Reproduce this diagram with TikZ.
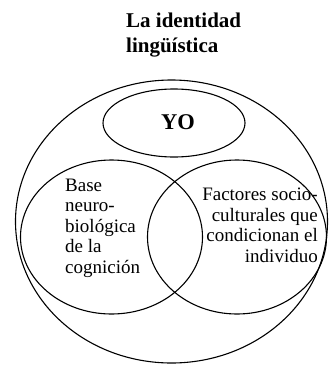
\documentclass[tikz,border=0pt]{standalone}
\usepackage{fontspec}
\setmainfont{Liberation Serif}
\usetikzlibrary{shapes.geometric}
\tikzset{
  ring/.style={draw=black, ellipse, line width=1.1pt, inner sep=0pt, outer sep=0pt},
  bodytext/.style={inner sep=0pt, font=\fontsize{19}{20.4}\selectfont},
  titletext/.style={inner sep=0pt, font=\fontsize{21}{25}\selectfont\bfseries},
}
\begin{document}
\begin{tikzpicture}[x=1pt,y=-1pt]
\useasboundingbox (0,0) rectangle (329,365);
% title
\node[titletext, anchor=base west] (t1) at (126,27) {La identidad};
\node[titletext, anchor=base west] (t2) at (126,52) {lingüística};
% outer ellipse
\node[ring, minimum width=312pt, minimum height=283pt] (outer) at (171.5,221.5) {};
% YO ellipse
\node[ring, minimum width=142pt, minimum height=68pt] (yo) at (174,123) {};
\node[inner sep=0pt, anchor=base, font=\fontsize{22.5}{24}\selectfont\bfseries] (yotext) at (178,129) {YO};
% left and right ellipses
\node[ring, minimum width=182pt, minimum height=154pt] (left) at (111.5,237) {};
\node[ring, minimum width=179pt, minimum height=154pt] (right) at (237,237) {};
% texts (base anchor = baseline of the last line)
\node[bodytext, anchor=base west, align=left] (ltext) at (65,273) {Base\\neuro-\\biológica\\de la\\cognición};
\node[bodytext, anchor=base east, align=right] (rtext) at (318,262) {Factores socio-\\culturales que\\condicionan el\\individuo};
\end{tikzpicture}
\end{document}
